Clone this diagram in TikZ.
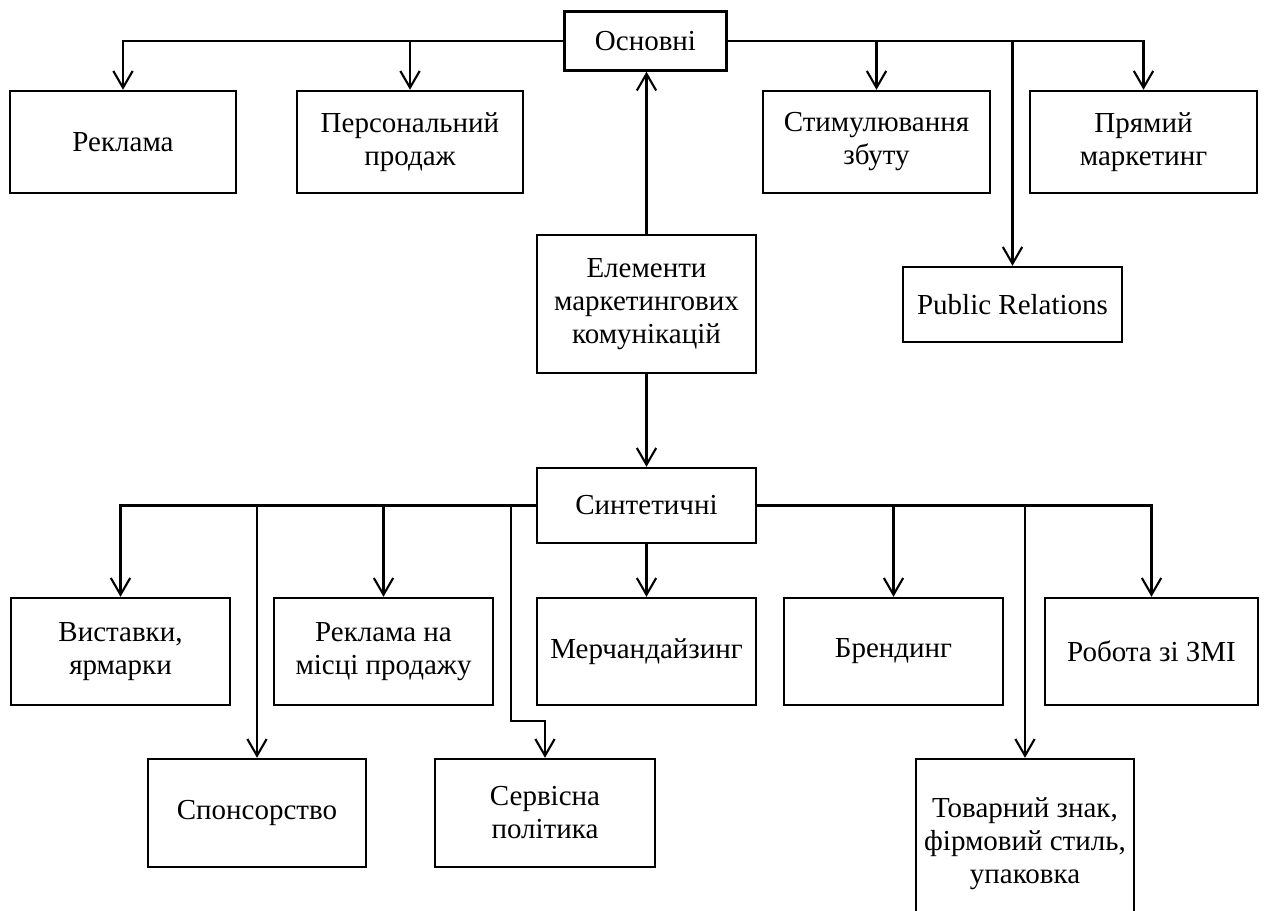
\documentclass[tikz,border=0pt]{standalone}
\usepackage{fontspec}
\setmainfont{Liberation Serif}
\usepackage{tikz}
\usetikzlibrary{arrows.meta}

\begin{document}
\begin{tikzpicture}[x=0.02cm, y=-0.02cm, font=\fontsize{16.5pt}{18.8pt}\selectfont,
    box/.style={draw, line width=1.4pt, align=center, inner sep=2pt},
    arr/.style={line width=1.2pt, -{Straight Barb[length=9.5pt, width=11pt, line width=1.2pt]}}]
    \useasboundingbox (0,0) rectangle (1264,910);
    \clip (0,0) rectangle (1264,910);

    % основні
    \node[box, minimum width=3.24cm, minimum height=1.18cm] (osn) at (645.5,41) {Основні};
    \node[box, minimum width=4.52cm, minimum height=2.04cm] (rek) at (123,142) {Реклама};
    \node[box, minimum width=4.52cm, minimum height=2.04cm] (pers) at (410,142) {Персональний\\продаж};
    \node[box, minimum width=4.54cm, minimum height=2.04cm] (stym) at (876.5,142) {Стимулювання\\збуту};
    \node[box, minimum width=4.54cm, minimum height=2.04cm] (pryam) at (1143.5,142) {Прямий\\маркетинг};
    \node[box, minimum width=4.38cm, minimum height=1.50cm] (pub) at (1012.5,304.5) {Public Relations};

    % центр
    \node[box, minimum width=4.38cm, minimum height=2.76cm] (elem) at (646.5,304) {Елементи\\маркетингових\\комунікацій};
    \node[box, minimum width=4.38cm, minimum height=1.50cm] (synt) at (646.5,505.5) {Синтетичні};

    % синтетичні
    \node[box, minimum width=4.38cm, minimum height=2.14cm] (vyst) at (120.5,651.5) {Виставки,\\ярмарки};
    \node[box, minimum width=4.38cm, minimum height=2.14cm] (rmp) at (383.5,651.5) {Реклама на\\місці продажу};
    \node[box, minimum width=4.38cm, minimum height=2.14cm] (merch) at (646.5,651.5) {Мерчандайзинг};
    \node[box, minimum width=4.38cm, minimum height=2.14cm] (brend) at (893.5,651.5) {Брендинг};
    \node[box, minimum width=4.26cm, minimum height=2.14cm] (zmi) at (1151.5,651.5) {Робота зі ЗМІ};
    \node[box, minimum width=4.36cm, minimum height=2.16cm] (spons) at (257,813) {Спонсорство};
    \node[box, minimum width=4.40cm, minimum height=2.16cm] (serv) at (545,813) {Сервісна\\політика};
    \node[box, minimum width=4.36cm, minimum height=3.40cm] (tov) at (1025,844) {Товарний знак,\\фірмовий стиль,\\упаковка};
    \coordinate (sbend) at (511,721);

    \draw[arr] (elem.north) -- (osn.south -| elem.north);
    \draw[arr] (elem.south) -- (synt.north);
    \draw[arr] (osn.west) -| (rek.north);
    \draw[arr] (osn.west) -| (pers.north);
    \draw[arr] (osn.east) -| (stym.north);
    \draw[arr] (osn.east) -| (pub.north);
    \draw[arr] (osn.east) -| (pryam.north);
    \draw[arr] (synt.west) -| (vyst.north);
    \draw[arr] (synt.west) -| (spons.north);
    \draw[arr] (synt.west) -| (rmp.north);
    \draw[arr] (synt.west) -| (sbend) -| (serv.north);
    \draw[arr] (synt.south) -- (merch.north);
    \draw[arr] (synt.east) -| (brend.north);
    \draw[arr] (synt.east) -| (tov.north);
    \draw[arr] (synt.east) -| (zmi.north);
\end{tikzpicture}
\end{document}
